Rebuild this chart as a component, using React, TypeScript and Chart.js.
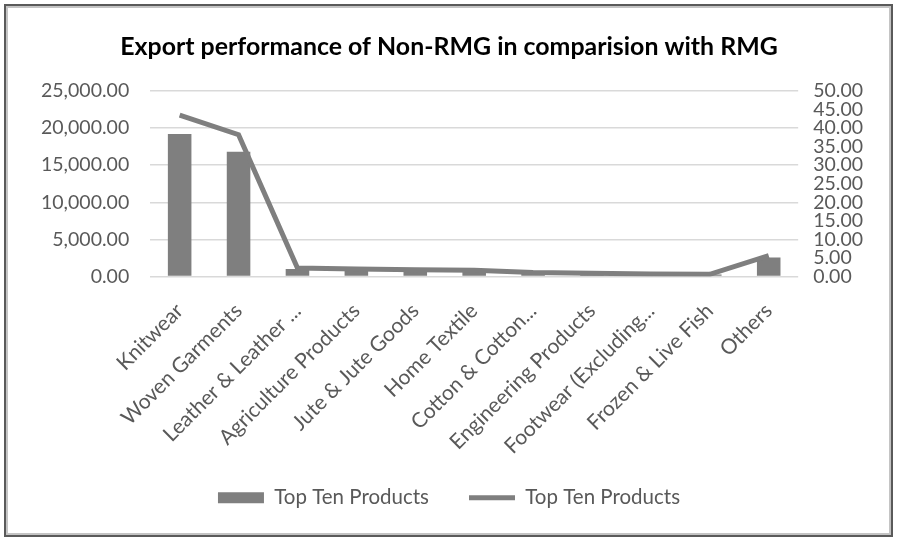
import React, { useEffect, useRef } from "react";
import { Chart, registerables } from "chart.js";

Chart.register(...registerables);

const categories = [
  "Knitwear",
  "Woven Garments",
  "Leather & Leather ...",
  "Agriculture Products",
  "Jute & Jute Goods",
  "Home Textile",
  "Cotton & Cotton...",
  "Engineering Products",
  "Footwear (Excluding...",
  "Frozen & Live Fish",
  "Others",
];

const barValues = [19200, 16800, 1000, 850, 780, 720, 480, 380, 320, 270, 2550];
const lineValues = [43.5, 38.2, 2.3, 2.0, 1.8, 1.7, 1.1, 0.9, 0.7, 0.6, 5.6];

const seriesLabel = "Top Ten Products";
const titleText = "Export performance of Non-RMG in comparision with RMG";

const FONT = "Lato, 'Open Sans', sans-serif";
const TEXT = "#595959";
const GRAY = "#7f7f7f";

function fmt(v: number) {
  return Number(v).toLocaleString("en-US", { minimumFractionDigits: 2, maximumFractionDigits: 2 });
}

export default function App() {
  const ref = useRef<HTMLCanvasElement | null>(null);

  useEffect(() => {
    document.body.style.margin = "0";
    const ctx = ref.current!.getContext("2d")!;
    const chart = new Chart(ctx, {
      type: "bar",
      data: {
        labels: categories,
        datasets: [
          {
            type: "line",
            label: seriesLabel,
            data: lineValues,
            yAxisID: "y1",
            borderColor: GRAY,
            backgroundColor: GRAY,
            borderWidth: 5,
            pointRadius: 0,
            pointStyle: "line",
            tension: 0,
            order: 0,
          } as any,
          {
            type: "bar",
            label: seriesLabel,
            data: barValues,
            yAxisID: "y",
            backgroundColor: GRAY,
            borderWidth: 0,
            categoryPercentage: 0.8,
            barPercentage: 0.5,
            pointStyle: "rect",
            order: 1,
          } as any,
        ],
      },
      options: {
        responsive: false,
        animation: false,
        layout: { padding: { left: 20, right: 22, top: 22, bottom: 26 } },
        plugins: {
          title: {
            display: true,
            text: titleText,
            color: "#000000",
            font: { family: FONT, size: 24.9, weight: "bold" },
            padding: { top: 10, bottom: 29 },
          },
          legend: {
            position: "bottom",
            reverse: true,
            labels: {
              usePointStyle: true,
              pointStyleWidth: 46,
              boxHeight: 11,
              color: TEXT,
              font: { family: FONT, size: 20.5 },
              padding: 40,
            },
          },
          tooltip: { enabled: false },
        },
        scales: {
          x: {
            grid: { display: false, drawTicks: false },
            border: { display: false },
            afterFit: (scale: any) => {
              scale.height = 171;
              scale._computeLabelArea = () => undefined;
            },
            ticks: {
              color: TEXT,
              font: { family: FONT, size: 21 },
              maxRotation: 45,
              minRotation: 45,
              autoSkip: false,
              padding: 22,
            },
          },
          y: {
            position: "left",
            min: 0,
            max: 25000,
            grid: { color: "#d9d9d9", lineWidth: 1.5, drawTicks: false },
            border: { display: false },
            ticks: {
              stepSize: 5000,
              color: TEXT,
              font: { family: FONT, size: 19.5 },
              padding: 21,
              callback: (v: any) => fmt(v),
            },
          },
          y1: {
            position: "right",
            min: 0,
            max: 50,
            grid: { display: false, drawTicks: false },
            border: { display: false },
            ticks: {
              stepSize: 5,
              autoSkip: false,
              color: TEXT,
              font: { family: FONT, size: 19.5, lineHeight: 1 },
              padding: 15,
              callback: (v: any) => fmt(v),
            },
          },
        },
      },
    });
    return () => chart.destroy();
  }, []);

  return (
    <div style={{ position: "relative", width: 900, height: 544, background: "#fff" }}>
      <div
        style={{
          position: "absolute",
          left: 4,
          top: 4,
          width: 885,
          height: 529,
          border: "2px solid #5a5a5a",
          boxShadow: "inset 0 0 0 2px #c4c4c4",
        }}
      />
      <canvas ref={ref} width={900} height={544} style={{ position: "absolute", left: 0, top: 0 }} />
    </div>
  );
}
